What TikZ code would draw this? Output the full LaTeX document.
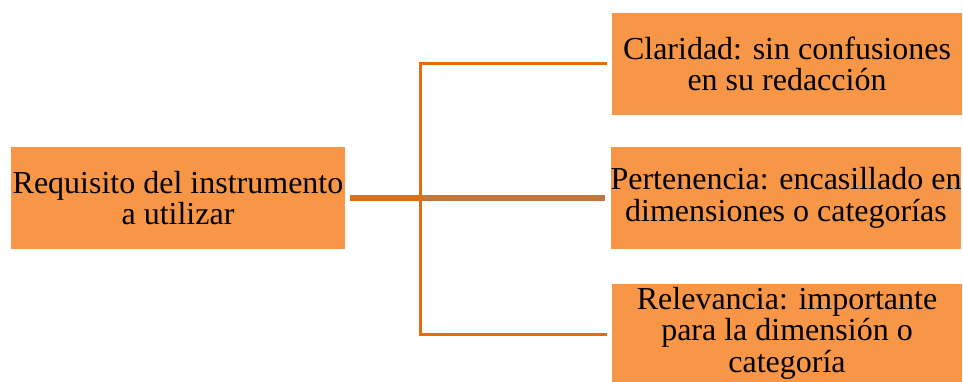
\documentclass[tikz,border=0pt]{standalone}
\usepackage{fontspec}
\setmainfont{Liberation Serif}
\definecolor{boxfill}{HTML}{F79646}
\definecolor{linedark}{HTML}{E46C0A}
\definecolor{linebrown}{HTML}{C5763A}
\begin{document}
\begin{tikzpicture}[x=1pt,y=-1pt,
  box/.style={fill=boxfill, draw=none, inner sep=0pt, align=center,
    font=\fontsize{32}{31.6}\selectfont},
  branch/.style={draw=linedark, line width=3pt},
  trunk/.style={draw=linedark, line width=5pt},
  trunkb/.style={draw=linebrown, line width=5pt}]
\useasboundingbox (0,0) rectangle (963,382);
\clip (0,0) rectangle (963,382);
\node[box, minimum width=334pt, minimum height=102pt] (main) at (178,198) {Requisito del instrumento\\a utilizar};
\node[box, minimum width=350pt, minimum height=102pt] (c1) at (787,64) {Claridad: sin confusiones\\en su redacción};
\node[box, minimum width=348pt, minimum height=102pt] (c2) at (786,198) {Pertenencia: encasillado en\\dimensiones o categorías};
\node[box, minimum width=350pt, minimum height=98pt] (c3) at (787,333) {Relevancia: importante\\para la dimensión o\\categoría};
\coordinate (j) at (420,198);
\draw[branch] ([xshift=-5pt]c1.west) -| (j) |- ([xshift=-5pt,yshift=-1pt]c3.west);
\draw[trunk] ([xshift=5pt]main.east) -- (j);
\draw[trunkb] (j) -- ([xshift=-5pt]c2.west);
\end{tikzpicture}
\end{document}
